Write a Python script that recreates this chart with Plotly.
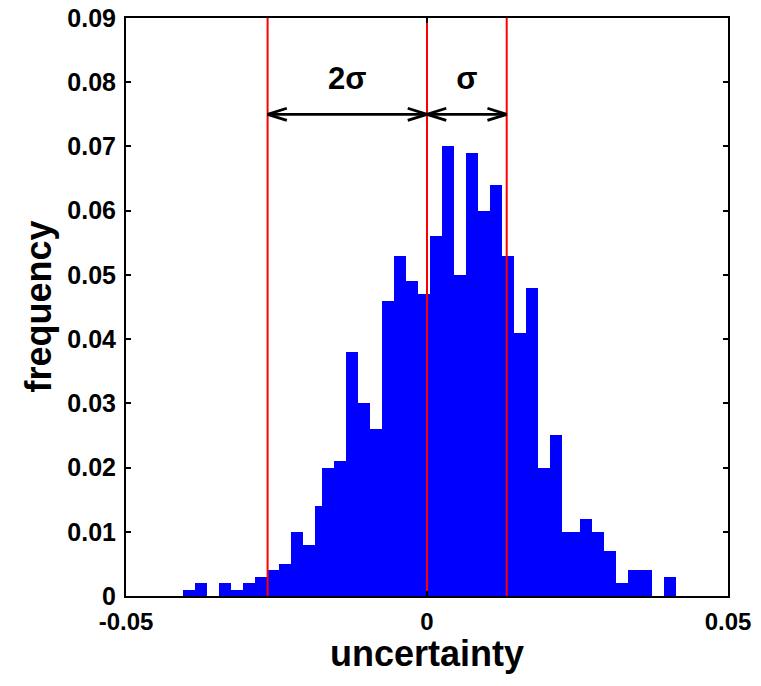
import plotly.graph_objects as go

# Histogram of the uncertainty (bin centres and relative frequencies)
bin_centers = [
    -0.0396, -0.0376, -0.0356, -0.0336, -0.0316, -0.0296, -0.0276, -0.0256,
    -0.0236, -0.0216, -0.0196, -0.0176,
    -0.0165, -0.0145, -0.0125, -0.0105, -0.0085, -0.0065, -0.0045, -0.0025,
    -0.0005, 0.0015, 0.0035, 0.0055, 0.0075, 0.0095, 0.0115, 0.0135,
    0.0155, 0.0175, 0.0195, 0.0215, 0.0235,
    0.0244, 0.0264, 0.0284, 0.0304, 0.0324, 0.0344, 0.0364, 0.0384, 0.0404,
]
frequency = [
    0.001, 0.002, 0.000, 0.002, 0.001, 0.002, 0.003, 0.004,
    0.005, 0.010, 0.008, 0.014,
    0.020, 0.021, 0.038, 0.030, 0.026, 0.046, 0.053, 0.049,
    0.047, 0.056, 0.070, 0.050, 0.069, 0.060, 0.064, 0.053,
    0.041, 0.048, 0.020, 0.025, 0.010,
    0.010, 0.012, 0.010, 0.007, 0.002, 0.004, 0.004, 0.000, 0.003,
]
bin_width = 0.002

mean = 0.0
sigma = 0.01324
arrow_y = 0.075
label_y = 0.0801

y_ticks = [0, 0.01, 0.02, 0.03, 0.04, 0.05, 0.06, 0.07, 0.08, 0.09]
y_tick_text = ["0", "0.01", "0.02", "0.03", "0.04", "0.05", "0.06", "0.07", "0.08", "0.09"]
x_ticks = [-0.05, 0, 0.05]
x_tick_text = ["-0.05", "0", "0.05"]

FONT = "Liberation Sans, Arial, Helvetica, sans-serif"

fig = go.Figure()

fig.add_trace(go.Bar(
    x=bin_centers, y=frequency, width=bin_width,
    marker=dict(color="#0000ff", line=dict(width=0)),
    showlegend=False, hoverinfo="x+y",
))

# vertical reference lines at mean - 2 sigma, mean, mean + sigma
for xv in [mean - 2 * sigma, mean, mean + sigma]:
    fig.add_trace(go.Scatter(
        x=[xv, xv], y=[0, 0.09], mode="lines",
        line=dict(color="#ff0000", width=2), showlegend=False, hoverinfo="skip",
    ))

# double-headed arrows spanning 2 sigma and sigma
head_dx = 0.0032
head_dy = 0.00095
for x0, x1 in [(mean - 2 * sigma, mean), (mean, mean + sigma)]:
    xs = [x0, x1, None,
          x0 + head_dx, x0, x0 + head_dx, None,
          x1 - head_dx, x1, x1 - head_dx]
    ys = [arrow_y, arrow_y, None,
          arrow_y + head_dy, arrow_y, arrow_y - head_dy, None,
          arrow_y + head_dy, arrow_y, arrow_y - head_dy]
    fig.add_trace(go.Scatter(
        x=xs, y=ys, mode="lines",
        line=dict(color="black", width=2.8), showlegend=False, hoverinfo="skip",
    ))

fig.add_trace(go.Scatter(
    x=[mean - sigma, mean + sigma / 2], y=[label_y, label_y],
    mode="text", text=["2σ", "σ"], textposition="middle center",
    textfont=dict(family=FONT, size=31, color="black", weight="bold"),
    showlegend=False, hoverinfo="skip",
))

axis_common = dict(
    showline=True, linecolor="black", linewidth=2, mirror="allticks",
    ticks="inside", tickcolor="black", tickwidth=1.5, ticklen=5,
    showgrid=False, zeroline=False, automargin=False,
)

title_font = dict(family=FONT, size=36, color="black", weight="bold")

fig.update_layout(
    width=761, height=686,
    margin=dict(l=126, r=33, t=18, b=90),
    paper_bgcolor="white", plot_bgcolor="white",
    bargap=0,
    xaxis=dict(range=[-0.05, 0.05], tickvals=x_ticks, ticktext=x_tick_text,
               ticklabelstandoff=3,
               tickfont=dict(family=FONT, size=24, color="black", weight="bold"),
               **axis_common),
    yaxis=dict(range=[0, 0.09], tickvals=y_ticks, ticktext=y_tick_text,
               ticklabelstandoff=3,
               tickfont=dict(family=FONT, size=25, color="black", weight="bold"),
               **axis_common),
    annotations=[
        dict(text="uncertainty", xref="paper", yref="paper", x=0.5, y=0,
             xanchor="center", yanchor="top", yshift=-36, showarrow=False,
             borderpad=0, font=title_font),
        dict(text="frequency", xref="paper", yref="paper", x=0, y=0.5,
             xanchor="right", yanchor="middle", xshift=-66, textangle=-90,
             showarrow=False, font=title_font),
    ],
)

fig.write_html("out.html")
